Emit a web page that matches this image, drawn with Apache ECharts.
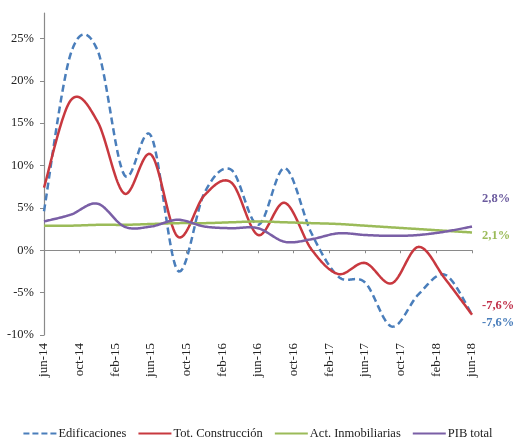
<!DOCTYPE html>
<html>
<head>
<meta charset="utf-8">
<script src="https://cdn.jsdelivr.net/npm/echarts@6/dist/echarts.min.js"></script>
<style>
  html, body { margin: 0; padding: 0; background: #ffffff; }
  #chart { width: 516px; height: 440px; }
</style>
</head>
<body>
<div id="chart"></div>
<script>
// Quarterly observations (annual % change)
const quarters = ['jun-14','sep-14','dec-14','mar-15','jun-15','sep-15','dec-15','mar-16','jun-16',
                  'sep-16','dec-16','mar-17','jun-17','sep-17','dec-17','mar-18','jun-18'];
const edificaciones   = [4.6, 23.2, 23.6, 8.9, 13.5, -2.4, 6.8, 9.5, 3.0, 9.7, 2.0, -3.1, -3.8, -9.0, -5.2, -2.9, -7.6];
const totConstruccion = [7.4, 17.7, 15.2, 6.7, 11.3, 1.6, 6.5, 8.0, 1.8, 5.6, 0.1, -2.8, -1.5, -3.9, 0.4, -3.4, -7.6];
const actInmobiliarias= [2.9, 2.9, 3.0, 3.0, 3.1, 3.2, 3.2, 3.3, 3.4, 3.3, 3.2, 3.1, 2.9, 2.7, 2.5, 2.3, 2.1];
const pibTotal        = [3.4, 4.2, 5.5, 2.8, 2.8, 3.6, 2.8, 2.6, 2.6, 1.0, 1.3, 2.0, 1.8, 1.7, 1.8, 2.2, 2.8];

// Axis tick labels (every four months)
const tickLabels = ['jun-14','oct-14','feb-15','jun-15','oct-15','feb-16','jun-16',
                    'oct-16','feb-17','jun-17','oct-17','feb-18','jun-18'];
const yTicks = [-10, -5, 0, 5, 10, 15, 20, 25];

const monthNames = ['ene','feb','mar','abr','may','jun','jul','ago','sep','oct','nov','dic'];
function monthIndex(label) {
  const [m, y] = label.split('-');
  const mi = monthNames.indexOf(m === 'dec' ? 'dic' : m);
  return (2000 + Number(y)) * 12 + mi;
}
const origin = monthIndex(quarters[0]);
const span = monthIndex(quarters[quarters.length - 1]) - origin;
function toPoints(values) {
  return values.map((v, i) => [monthIndex(quarters[i]) - origin, v]);
}
function fmt(v) {
  return v.toFixed(1).replace('.', ',') + '%';
}

const FONT = '"Liberation Serif", "DejaVu Serif", serif';
const SOLID_ICON = 'path://M0,0h33v2h-33z';
const DASH_ICON = 'path://M0,0h6v2h-6z M9,0h6v2h-6z M18,0h6v2h-6z M27,0h6v2h-6z';

// Smoothed curve through the data points (Catmull-Rom, sampled in pixel space)
function smoothPath(pts) {
  const out = [];
  const steps = 24;
  for (let i = 0; i < pts.length - 1; i++) {
    const p0 = pts[i - 1] || pts[i];
    const p1 = pts[i];
    const p2 = pts[i + 1];
    const p3 = pts[i + 2] || pts[i + 1];
    const c1 = [p1[0] + (p2[0] - p0[0]) / 6, p1[1] + (p2[1] - p0[1]) / 6];
    const c2 = [p2[0] - (p3[0] - p1[0]) / 6, p2[1] - (p3[1] - p1[1]) / 6];
    for (let s = (i === 0 ? 0 : 1); s <= steps; s++) {
      const t = s / steps, u = 1 - t;
      const a = u * u * u, b = 3 * u * u * t, c = 3 * u * t * t, d = t * t * t;
      out.push([
        a * p1[0] + b * c1[0] + c * c2[0] + d * p2[0],
        a * p1[1] + b * c1[1] + c * c2[1] + d * p2[1]
      ]);
    }
  }
  return out;
}

function curveSeries(name, values, color, dash, labelColor, labelOffsetY) {
  const points = toPoints(values);
  return {
    name: name,
    type: 'custom',
    coordinateSystem: 'cartesian2d',
    xAxisIndex: 0,
    encode: { x: 0, y: 1 },
    data: points,
    itemStyle: { color: color },
    silent: true,
    renderItem: function (params, api) {
      if (params.dataIndex !== 0) return null;
      const px = points.map(p => api.coord(p));
      const last = px[px.length - 1];
      return {
        type: 'group',
        children: [
          {
            type: 'polyline',
            shape: { points: smoothPath(px) },
            style: { stroke: color, lineWidth: 2.5, fill: null, lineDash: dash, lineJoin: 'round' }
          },
          {
            type: 'text',
            x: last[0] + 10,
            y: last[1] + labelOffsetY,
            style: {
              text: fmt(values[values.length - 1]),
              fill: labelColor,
              fontFamily: FONT,
              fontWeight: 'bold',
              fontSize: 12.5,
              align: 'left',
              verticalAlign: 'middle'
            }
          }
        ]
      };
    }
  };
}

const chart = echarts.init(document.getElementById('chart'), null, { renderer: 'canvas' });
chart.setOption({
  animation: false,
  backgroundColor: '#ffffff',
  textStyle: { fontFamily: FONT },
  grid: { left: 44, right: 44, top: 13, bottom: 105, containLabel: false },
  legend: {
    bottom: 0,
    padding: 0,
    left: 'center',
    itemWidth: 33,
    itemHeight: 2.5,
    itemGap: 12,
    selectedMode: false,
    textStyle: { fontFamily: FONT, fontSize: 12.5, color: '#222', padding: [0, 0, 0, -3] },
    data: [
      { name: 'Edificaciones', icon: DASH_ICON },
      { name: 'Tot. Construcción', icon: SOLID_ICON },
      { name: 'Act. Inmobiliarias', icon: SOLID_ICON },
      { name: 'PIB total', icon: SOLID_ICON }
    ]
  },
  xAxis: [
    {
      type: 'value',
      position: 'top',
      min: 0, max: span, interval: 4,
      axisLine: { onZero: true, lineStyle: { color: '#8a8a8a', width: 1.2 } },
      axisTick: { show: true, inside: true, length: 3, lineStyle: { color: '#8a8a8a' } },
      axisLabel: { show: false },
      splitLine: { show: false }
    },
    {
      type: 'value',
      position: 'bottom',
      min: 0, max: span, interval: 4,
      axisLine: { show: false, onZero: false },
      axisTick: { show: false },
      splitLine: { show: false },
      axisLabel: {
        rotate: 90,
        margin: 8,
        fontFamily: FONT,
        fontSize: 13,
        color: '#222',
        padding: [16, 0, 0, 0],
        formatter: v => tickLabels[Math.round(v / 4)] || ''
      }
    }
  ],
  yAxis: {
    type: 'value',
    min: -10, max: 28, interval: 5,
    axisLine: { show: true, lineStyle: { color: '#8a8a8a', width: 1.2 } },
    axisTick: { show: true, length: 4, customValues: yTicks, lineStyle: { color: '#8a8a8a' } },
    splitLine: { show: false },
    axisLabel: {
      margin: 10,
      fontFamily: FONT,
      fontSize: 12.5,
      color: '#222',
      customValues: yTicks,
      formatter: v => (yTicks.indexOf(v) >= 0 ? v + '%' : '')
    }
  },
  series: [
    curveSeries('Edificaciones', edificaciones, '#4a7ebb', [7, 4], '#4a7ebb', 8),
    curveSeries('Tot. Construcción', totConstruccion, '#c8383f', null, '#c0304a', -9),
    curveSeries('Act. Inmobiliarias', actInmobiliarias, '#9bbb59', null, '#9bbb59', 3),
    curveSeries('PIB total', pibTotal, '#7a5fa6', null, '#6b5b9e', -28)
  ]
});
</script>
</body>
</html>
